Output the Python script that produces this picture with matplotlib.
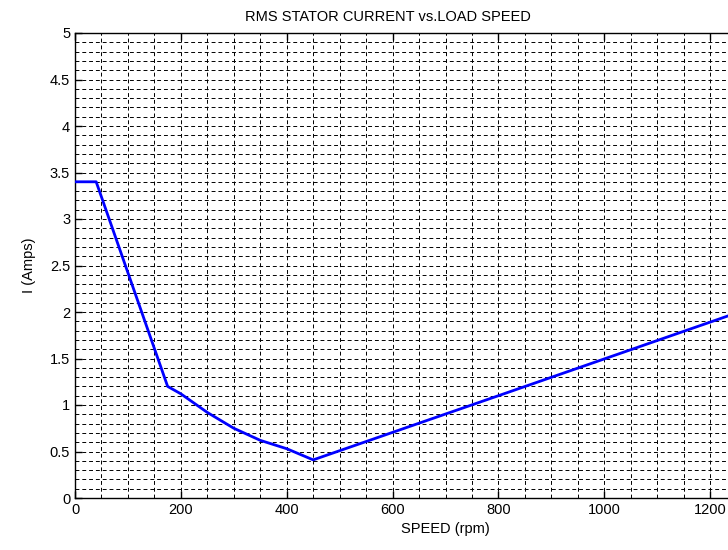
import numpy as np
import matplotlib.pyplot as plt
from matplotlib.ticker import MultipleLocator, FormatStrFormatter

# values
speed = [0, 40, 175, 200, 250, 300, 350, 400, 450, 800, 1250]
current = [3.4, 3.4, 1.2, 1.12, 0.92, 0.75, 0.62, 0.53, 0.41, 1.1, 1.99]

plt.rcParams['font.family'] = ['Liberation Sans', 'DejaVu Sans']

fig = plt.figure(figsize=(7.28, 5.5), dpi=100)
ax = fig.add_axes([75 / 728, 52 / 550, 741 / 728, 465 / 550])

ax.plot(speed, current, color='#0000ff', lw=2, zorder=3)

ax.set_xlim(0, 1400)
ax.set_ylim(0, 5)
ax.xaxis.set_major_locator(MultipleLocator(200))
ax.xaxis.set_minor_locator(MultipleLocator(50))
ax.yaxis.set_major_locator(MultipleLocator(0.5))
ax.yaxis.set_minor_locator(MultipleLocator(0.1))
ax.yaxis.set_major_formatter(FormatStrFormatter('%g'))

ax.grid(which='both', color='black', linestyle=(0, (4, 3)), linewidth=0.7)
ax.tick_params(which='major', direction='in', length=5, top=True, right=True,
               labelsize=10.5, colors='black', width=1)
ax.tick_params(which='minor', direction='in', length=0)
for s in ax.spines.values():
    s.set_linewidth(1)

# title sits left of the (cropped) axes centre in the reference
fig.text(388 / 728, 1 - 17 / 550, 'RMS STATOR CURRENT vs.LOAD SPEED',
         fontsize=10.5, ha='center', va='center')
ax.set_xlabel('SPEED (rpm)', fontsize=10.5, labelpad=4)
ax.set_ylabel('I (Amps)', fontsize=10.5, labelpad=10)

fig.savefig('out.png', dpi=100)
